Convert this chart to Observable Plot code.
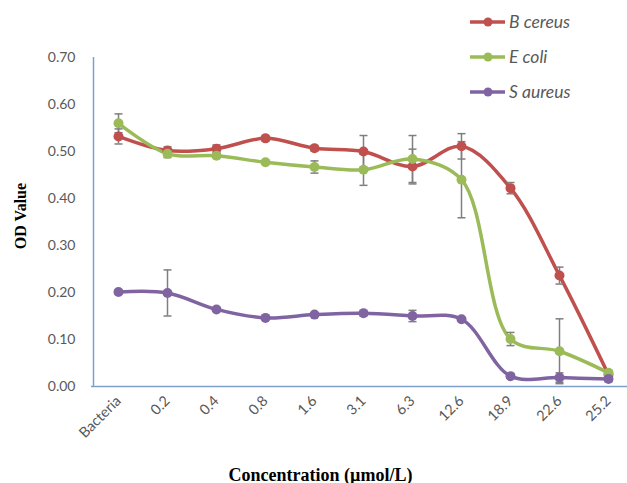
<!DOCTYPE html>
<html>
<head>
<meta charset="utf-8">
<script src="https://cdn.jsdelivr.net/npm/d3@7"></script>
<script src="https://cdn.jsdelivr.net/npm/@observablehq/plot@0.6"></script>
<style>
  html, body { margin: 0; padding: 0; background: #fff; }
  #wrap { position: relative; width: 627px; height: 483px; }
  #legend { position: absolute; left: 469px; top: 4px; font-family: Lato, "Open Sans", sans-serif; font-style: italic; font-size: 17.5px; color: #595959; }
  #legend .row { display: flex; align-items: center; height: 35px; }
  #legend svg { margin-right: 3px; }
</style>
</head>
<body>
<div id="wrap"><div id="legend"></div></div>
<script>
const categories = ["Bacteria","0.2","0.4","0.8","1.6","3.1","6.3","12.6","18.9","22.6","25.2"];
const seriesNames = ["B cereus","E coli","S aureus"];
const seriesColors = ["#C0504D","#9BBB59","#8064A2"];
const bCereus    = [0.532,0.502,0.506,0.528,0.507,0.500,0.468,0.511,0.422,0.236,0.025];
const bCereusErr = [0.016,0.008,0.008,0.006,0.006,0.034,0.037,0.027,0.012,0.018,0.005];
const eColi      = [0.560,0.495,0.491,0.477,0.467,0.461,0.484,0.440,0.101,0.075,0.029];
const eColiErr   = [0.020,0.008,0.005,0.004,0.013,0.033,0.050,0.081,0.014,0.069,0.005];
const sAureus    = [0.201,0.199,0.164,0.146,0.153,0.156,0.150,0.143,0.022,0.019,0.016];
const sAureusErr = [0.004,0.049,0.004,0.003,0.004,0.006,0.012,0.004,0.004,0.010,0.006];
const yTicks = [0,0.1,0.2,0.3,0.4,0.5,0.6,0.7];

const values = [bCereus, eColi, sAureus];
const errs = [bCereusErr, eColiErr, sAureusErr];
const data = [];
seriesNames.forEach((s, si) => {
  categories.forEach((c, i) => {
    data.push({series: s, cat: c, v: values[si][i], e: errs[si][i]});
  });
});

const capSymbol = {
  draw(context, size) {
    const w = 4;
    context.moveTo(-w, 0);
    context.lineTo(w, 0);
  }
};

const plot = Plot.plot({
  width: 627,
  height: 483,
  marginLeft: 91,
  marginRight: 0,
  marginTop: 57,
  marginBottom: 97,
  style: {background: "#fff", overflow: "visible"},
  x: {type: "point", domain: categories, range: [116, 610], padding: 0},
  y: {domain: [0, 0.7], range: [386, 57]},
  color: {domain: seriesNames, range: seriesColors},
  marks: [
    Plot.ruleY([0], {stroke: "#7F9FCF", strokeWidth: 1.5}),
    Plot.ruleX(["Bacteria"], {dx: -25, y1: 0, y2: 0.7, stroke: "#7F9FCF", strokeWidth: 1.5}),
    Plot.axisY({ticks: yTicks, tickSize: 0, tickPadding: 16, tickFormat: d3.format(".2f"), fontSize: 14, fontFamily: "Lato, 'Open Sans', sans-serif", fill: "#595959", label: null}),
    Plot.axisX({tickSize: 0, tickRotate: -45, tickPadding: 12, fontSize: 14.5, fontFamily: "Lato, 'Open Sans', sans-serif", fill: "#595959", label: null}),
    Plot.line(data, {x: "cat", y: "v", z: "series", stroke: "series", strokeWidth: 3.5, curve: "catmull-rom"}),
    Plot.ruleX(data, {x: "cat", y1: d => d.v - d.e, y2: d => d.v + d.e, stroke: "#7F7F7F", strokeWidth: 1.5}),
    Plot.dot(data, {x: "cat", y: d => d.v + d.e, symbol: capSymbol, stroke: "#7F7F7F", strokeWidth: 1.5, fill: "none"}),
    Plot.dot(data, {x: "cat", y: d => d.v - d.e, symbol: capSymbol, stroke: "#7F7F7F", strokeWidth: 1.5, fill: "none"}),
    Plot.dot(data, {x: "cat", y: "v", fill: "series", r: 5, stroke: null}),
    Plot.text(["OD Value"], {frameAnchor: "left", textAnchor: "middle", rotate: -90, dx: -71, dy: -6, fontSize: 16, fontWeight: "bold", fontFamily: "'Liberation Serif', 'Times New Roman', serif", fill: "#000"}),
    Plot.text(["Concentration (µmol/L)"], {frameAnchor: "bottom", dx: -39, dy: 94, fontSize: 18, fontWeight: "bold", fontFamily: "'Liberation Serif', 'Times New Roman', serif", fill: "#000"})
  ]
});
document.getElementById("wrap").prepend(plot);

const legend = document.getElementById("legend");
seriesNames.forEach((s, i) => {
  const row = document.createElement("div");
  row.className = "row";
  row.innerHTML = `<svg width="37" height="12"><line x1="1" y1="6" x2="36" y2="6" stroke="${seriesColors[i]}" stroke-width="3.5"/><circle cx="19" cy="6" r="4.5" fill="${seriesColors[i]}"/></svg><span>${s}</span>`;
  legend.appendChild(row);
});
</script>
</body>
</html>
